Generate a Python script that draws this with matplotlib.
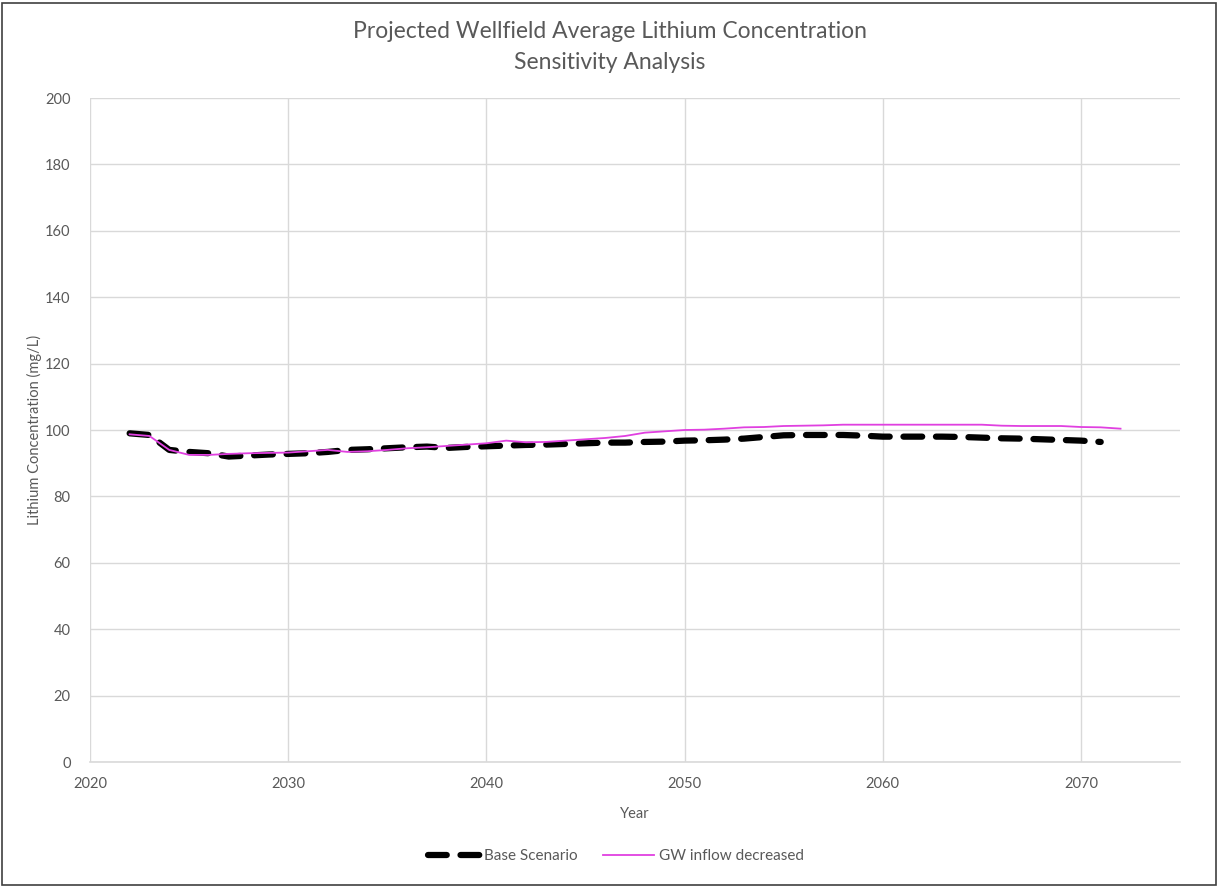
import matplotlib
matplotlib.use("Agg")
import matplotlib.pyplot as plt
from matplotlib.patches import Rectangle

years_base = list(range(2022, 2072))
base = [99.0, 98.5, 94.0, 93.4, 93.0, 92.0, 92.3, 92.6, 92.8, 93.0,
        93.4, 94.0, 94.2, 94.5, 94.8, 95.0, 94.6, 94.9, 95.1, 95.3,
        95.5, 95.6, 95.8, 96.0, 96.2, 96.2, 96.4, 96.5, 96.8, 96.9,
        97.1, 97.4, 97.9, 98.4, 98.5, 98.5, 98.5, 98.3, 98.0, 98.0,
        98.0, 98.0, 97.9, 97.7, 97.5, 97.4, 97.2, 97.0, 96.8, 96.4]

years_gw = list(range(2022, 2073))
gw = [98.7, 98.2, 94.0, 92.5, 92.5, 92.8, 93.0, 93.1, 93.2, 93.6,
      94.0, 93.4, 93.6, 94.0, 94.5, 94.8, 95.2, 95.6, 96.0, 96.8,
      96.3, 96.4, 96.8, 97.2, 97.6, 98.2, 99.2, 99.6, 100.0, 100.1,
      100.4, 100.8, 100.9, 101.2, 101.3, 101.4, 101.6, 101.6, 101.6, 101.6,
      101.6, 101.6, 101.6, 101.6, 101.3, 101.2, 101.2, 101.2, 100.9, 100.8,
      100.4]

x_ticks = [2020, 2030, 2040, 2050, 2060, 2070]
y_ticks = [0, 20, 40, 60, 80, 100, 120, 140, 160, 180, 200]

title = "Projected Wellfield Average Lithium Concentration\nSensitivity Analysis"
xlabel = "Year"
ylabel = "Lithium Concentration (mg/L)"
labels = ["Base Scenario", "GW inflow decreased"]

plt.rcParams['font.family'] = ['Lato', 'DejaVu Sans']
txt = '#595959'
grid = '#d9d9d9'

W, H = 1218, 886
fig = plt.figure(figsize=(W / 100, H / 100), dpi=100)
ax = fig.add_axes([90 / W, 1 - 762 / H, (1180 - 90) / W, (762 - 98) / H])

ax.plot(years_base, base, color='black', lw=4.5, dashes=(3.0, 2.2),
        solid_capstyle='round', dash_capstyle='round', label=labels[0], zorder=3)
ax.plot(years_gw, gw, color='#e040e0', lw=1.3, label=labels[1], zorder=4)

ax.set_xlim(2020, 2075)
ax.set_ylim(0, 200)
ax.set_xticks(x_ticks)
ax.set_yticks(y_ticks)
ax.grid(True, color=grid, lw=1)
ax.set_axisbelow(True)
for s in ['top', 'right', 'left']:
    ax.spines[s].set_visible(False)
ax.spines['bottom'].set_color(grid)
ax.spines['bottom'].set_linewidth(1.2)
ax.tick_params(length=0, labelsize=10.5, labelcolor=txt)
ax.tick_params(axis='x', pad=11)
ax.tick_params(axis='y', pad=14)

ax.set_xlabel(xlabel, fontsize=10.5, color=txt, labelpad=11)
ax.set_ylabel(ylabel, fontsize=10.5, color=txt, labelpad=2)

fig.text(610 / W, 1 - 47 / H, title, ha='center', va='center',
         fontsize=16.5, color=txt, linespacing=1.55)

leg = fig.legend(loc='center', bbox_to_anchor=(616 / W, 1 - 856 / H), ncol=2,
                 frameon=False, fontsize=11, labelcolor=txt,
                 handlelength=3.4, columnspacing=1.6, handletextpad=0.3)

fig.patches.append(Rectangle((1.5 / W, 1.5 / H), (W - 4) / W, (H - 4) / H,
                             transform=fig.transFigure, fill=False,
                             edgecolor='#404040', lw=1.2))

fig.savefig('out.png', dpi=100, facecolor='white')
